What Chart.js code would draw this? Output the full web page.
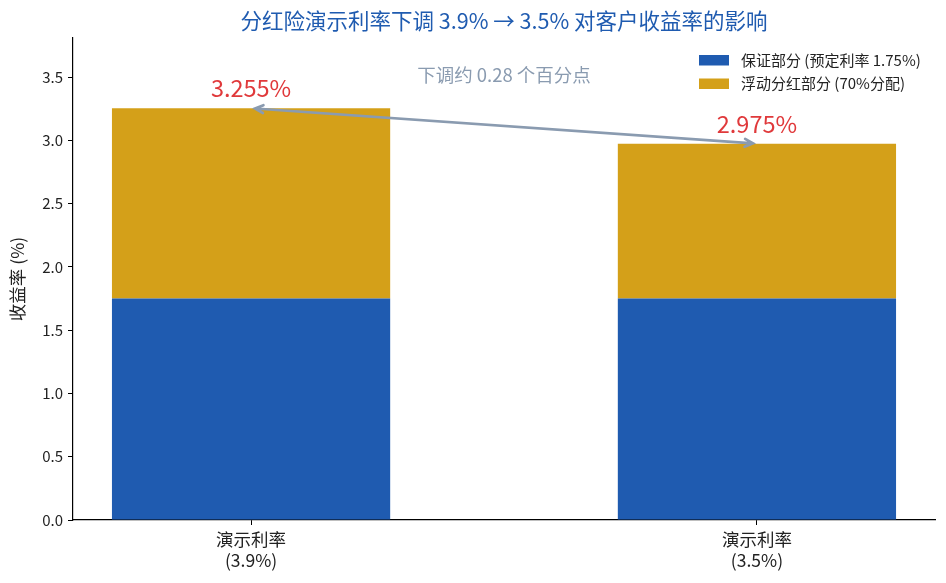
<!DOCTYPE html>
<html>
<head>
<meta charset="utf-8">
<script src="https://cdn.jsdelivr.net/npm/chart.js@4"></script>
<style>
  html, body { margin: 0; padding: 0; background: #fff; }
  #wrap { width: 946px; height: 583px; }
</style>
</head>
<body>
<div id="wrap"><canvas id="c"></canvas></div>
<script>
// data
const categories = [['演示利率', '(3.9%)'], ['演示利率', '(3.5%)']];
const guaranteed = [1.75, 1.75];
const dividend = [1.505, 1.225];
const totals = ['3.255%', '2.975%'];
const yTicks = [0, 0.5, 1.0, 1.5, 2.0, 2.5, 3.0, 3.5];

const titleText = '分红险演示利率下调 3.9% → 3.5% 对客户收益率的影响';
const noteText = '下调约 0.28 个百分点';
const legendNames = ['保证部分 (预定利率 1.75%)', '浮动分红部分 (70%分配)'];

const blue = '#1f5bb0';
const gold = '#d4a019';
const FONT = "'Noto Sans CJK SC', 'Noto Sans', sans-serif";

const extras = {
    id: 'extras',
    afterDraw(chart) {
        const { ctx, chartArea, scales } = chart;
        const xs = scales.x, ys = scales.y;
        ctx.save();

        // title centred over the plot
        ctx.fillStyle = blue;
        ctx.font = `21.5px ${FONT}`;
        ctx.textAlign = 'center';
        ctx.textBaseline = 'middle';
        ctx.fillText(titleText, (chartArea.left + chartArea.right) / 2, 21);

        // totals above bars
        ctx.fillStyle = '#e0393b';
        ctx.font = `23.5px ${FONT}`;
        ctx.textBaseline = 'bottom';
        guaranteed.forEach((g, i) => {
            const top = g + dividend[i];
            ctx.fillText(totals[i], xs.getPixelForValue(i), ys.getPixelForValue(top) - 8);
        });

        // double arrow between tops
        const x1 = xs.getPixelForValue(0), y1 = ys.getPixelForValue(guaranteed[0] + dividend[0]);
        const x2 = xs.getPixelForValue(1), y2 = ys.getPixelForValue(guaranteed[1] + dividend[1]);
        const ang = Math.atan2(y2 - y1, x2 - x1);
        const s = 4;
        const ax = x1 + s * Math.cos(ang), ay = y1 + s * Math.sin(ang);
        const bx = x2 - s * Math.cos(ang), by = y2 - s * Math.sin(ang);
        ctx.strokeStyle = '#8a9bb0';
        ctx.lineWidth = 2.7;
        ctx.lineCap = 'round';
        ctx.beginPath();
        ctx.moveTo(ax, ay); ctx.lineTo(bx, by);
        const h = 9, w = 0.45;
        ctx.moveTo(ax + h * Math.cos(ang - w), ay + h * Math.sin(ang - w));
        ctx.lineTo(ax, ay);
        ctx.lineTo(ax + h * Math.cos(ang + w), ay + h * Math.sin(ang + w));
        ctx.moveTo(bx - h * Math.cos(ang - w), by - h * Math.sin(ang - w));
        ctx.lineTo(bx, by);
        ctx.lineTo(bx - h * Math.cos(ang + w), by - h * Math.sin(ang + w));
        ctx.stroke();

        // note text
        ctx.fillStyle = '#8a9bb0';
        ctx.font = `18.5px ${FONT}`;
        ctx.textBaseline = 'middle';
        ctx.fillText(noteText, xs.getPixelForValue(0.5), ys.getPixelForValue(3.515));

        // legend
        ctx.font = `15px ${FONT}`;
        ctx.textAlign = 'left';
        [blue, gold].forEach((c, i) => {
            const ly = 60 + i * 23.5;
            ctx.fillStyle = c;
            ctx.fillRect(699, ly - 5, 30, 10.5);
            ctx.fillStyle = '#222';
            ctx.fillText(legendNames[i], 741, ly);
        });
        ctx.restore();
    }
};

new Chart(document.getElementById('c'), {
    type: 'bar',
    data: {
        datasets: [
            {
                label: legendNames[0],
                data: guaranteed.map((v, i) => ({ x: i, y: v })),
                backgroundColor: blue
            },
            {
                label: legendNames[1],
                data: dividend.map((v, i) => ({ x: i, y: v })),
                backgroundColor: gold
            }
        ]
    },
    options: {
        responsive: true,
        maintainAspectRatio: false,
        animation: false,
        layout: { padding: { top: 38, right: 11, left: 0, bottom: 0 } },
        datasets: { bar: { barPercentage: 0.55, categoryPercentage: 1 } },
        plugins: {
            legend: { display: false },
            tooltip: { enabled: false }
        },
        scales: {
            x: {
                type: 'linear',
                stacked: true,
                offset: false,
                min: -0.352,
                max: 1.352,
                afterBuildTicks: (s) => { s.ticks = categories.map((_, i) => ({ value: i })); },
                afterFit: (s) => { s.height = 63; },
                ticks: {
                    color: '#222',
                    font: { family: FONT, size: 17.5, lineHeight: 1.25 },
                    padding: 3,
                    callback: (v) => categories[v] || ''
                },
                grid: { offset: false, drawOnChartArea: false, drawTicks: true, tickLength: 5, color: '#000' },
                border: { display: true, color: '#000', width: 1.2 }
            },
            y: {
                stacked: true,
                min: 0,
                max: 3.81,
                afterBuildTicks: (s) => { s.ticks = yTicks.map(v => ({ value: v })); },
                afterFit: (s) => { s.width = 73; },
                ticks: {
                    color: '#222',
                    font: { family: FONT, size: 15 },
                    padding: 5,
                    callback: (v) => v.toFixed(1)
                },
                title: {
                    display: true,
                    text: '收益率 (%)',
                    color: '#222',
                    font: { family: FONT, size: 17.5 },
                    padding: { top: 7, bottom: 0 }
                },
                grid: { drawOnChartArea: false, drawTicks: true, tickLength: 5, color: '#000' },
                border: { display: true, color: '#000', width: 1.2 }
            }
        }
    },
    plugins: [extras]
});
</script>
</body>
</html>
